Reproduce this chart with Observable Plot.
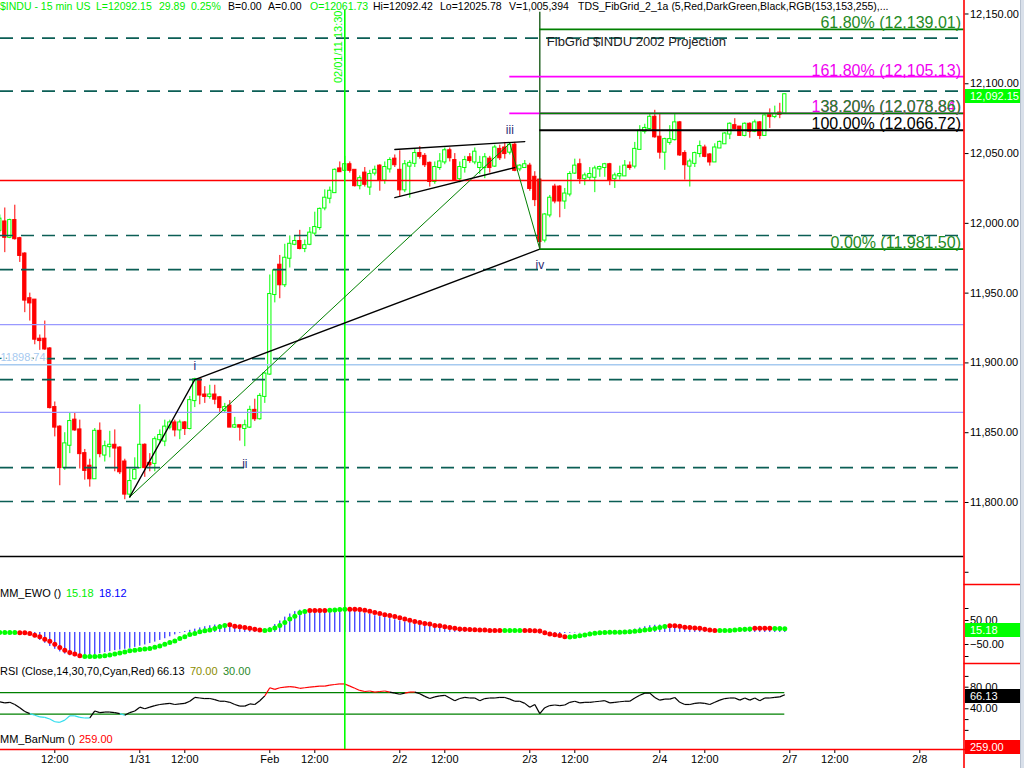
<!DOCTYPE html>
<html><head><meta charset="utf-8">
<script src="https://cdn.jsdelivr.net/npm/d3@7"></script>
<script src="https://cdn.jsdelivr.net/npm/@observablehq/plot@0.6"></script>
<style>
html,body{margin:0;padding:0;background:#fff;}
#wrap{position:relative;width:1024px;height:768px;overflow:hidden;font-family:"Liberation Sans",Arial,sans-serif;}
.panel{position:absolute;left:0;}
.panel svg{display:block;}
.panel g[aria-label="y-axis"] line,.panel g[aria-label="x-axis"] line{stroke:#ff0000;}
.panel g[aria-label="y-axis"] path,.panel g[aria-label="x-axis"] path{display:none;}
.panel g[aria-label="y-axis"] text{fill:#000;font-size:10.5px;}
.panel g[aria-label="x-axis"] text{fill:#000;font-size:11px;}
.lbl{position:absolute;font-size:11px;line-height:12px;white-space:pre;}
.hdr{font-size:10.5px;}
.box{position:absolute;left:965px;width:55px;height:14px;color:#fff;font-size:11px;line-height:14px;padding-left:5px;box-sizing:border-box;}
#edge{position:absolute;left:1020px;top:0;width:4px;height:768px;background:#d9e0ea;border-left:1px solid #b8c2d0;box-sizing:border-box;}
</style></head><body><div id="wrap"></div>
<script>
// ================= DATA =================
// 15-minute $INDU bars; bar 0-1 = end of 1/27, 1/28 starts at bar 2 (26 bars per session)
const barOpen = [
11995,12001,11990,12002,11989,11978,11946,11945,11917,11917,
11910,11868,11854,11825,11841,11859,11852,11835,11826,11817,
11851,11834,11840,11841,11839,11829,11806,11817,11825,11841,
11828,11828,11845,11844,11854,11857,11852,11857,11853,11873,
11888,11877,11876,11877,11875,11866,11869,11854,11855,11853,
11854,11866,11860,11876,11892,11949,11970,11956,11975,11985,
11987,11982,11985,11993,11997,12011,12018,12022,12039,12038,
12042,12038,12027,12036,12026,12036,12041,12031,12039,12046,
12038,12024,12041,12043,12050,12048,12043,12030,12040,12044,
12052,12045,12032,12040,12047,12044,12040,12040,12046,12041,
12053,12054,12051,12056,12039,12040,12041,12033,12031,11988,
12006,12026,12026,12016,12021,12036,12042,12032,12033,12033,
12039,12040,12042,12032,12034,12034,12041,12041,12053,12066,
12068,12076,12061.73,12051,12058,12060,12072,12050,12041,12043,
12050,12054,12049,12044,12054,12057,12064,12070,12069,12063,
12071,12066,12072,12063,12077.5,12076.5,12079,12078.9];
const barHigh = [
12006,12011,12003,12013,11990,11979,11950,11945,11920,11930,
11911,11872,11855,11850,11864,11864,11859,11838,11831,11853,
11857,11844,11851,11852,11840,11831,11824,11832,11870,11842,
11835,11847,11852,11859,11859,11859,11859,11858,11876,11889,
11888,11883,11884,11884,11876,11871,11873,11861,11855,11859,
11869,11874,11878,11893,11963,11967,11977,11985,11991,11991,
11995,11988,11997,12008,12011,12024,12026,12039,12044,12048,
12044,12038,12034,12040,12038,12041,12042,12044,12047,12049,
12052,12045,12045,12053,12055,12050,12044,12044,12050,12054,
12054,12050,12044,12048,12050,12054,12048,12050,12048,12056,
12056,12058,12058,12058,12042,12045,12043,12037,12032,12007,
12020,12028,12027,12025,12037,12046,12046,12036,12040,12041,
12041,12043,12043,12036,12041,12045,12044,12058,12070,12071,
12078,12081,12078,12061,12070,12078,12073,12052,12046,12051,
12059,12056,12050,12057,12059,12065,12072,12075,12069,12072,
12072,12074,12073,12078,12082,12084,12086,12092.42];
const barLow = [
11993,11979,11989,11988,11972,11936,11930,11913,11909,11909,
11867,11847,11812,11823,11835,11851,11824,11816,11811,11817,
11832,11829,11832,11822,11820,11802,11803,11816,11824,11818,
11822,11822,11842,11840,11852,11847,11845,11848,11852,11868,
11870,11871,11874,11870,11864,11864,11854,11853,11844,11840,
11853,11858,11859,11871,11891,11943,11946,11954,11968,11984,
11981,11979,11984,11991,11995,12009,12014,12022,12037,12037,
12036,12026,12024,12026,12020,12034,12023,12028,12036,12040,
12019,12022,12018,12040,12046,12040,12026,12028,12038,12042,
12044,12030,12029,12036,12043,12042,12035,12032,12036,12040,
12045,12046,12049,12037,12037,12040,12023,12012,11982,11986,
12004,12014,12004,12010,12019,12035,12028,12027,12030,12022,
12033,12033,12027,12025,12031,12034,12038,12039,12053,12064,
12067,12061,12046,12038,12056,12059,12048,12031,12026,12040,
12047,12047,12041,12044,12054,12057,12060,12067,12063,12062,
12061,12065,12060,12063,12068,12075,12075,12078];
const barClose = [
12003,11990,12002,11989,11977,11945,11943,11917,11916,11910,
11868,11854,11825,11842,11858,11852,11835,11823,11817,11851,
11835,11840,11841,11839,11822,11806,11815,11823,11841,11825,
11827,11845,11848,11854,11857,11852,11857,11853,11873,11888,
11877,11876,11877,11874,11868,11868,11854,11855,11854,11855,
11866,11860,11876,11892,11949,11966,11956,11975,11985,11987,
11982,11984,11993,11997,12010,12018,12023,12038,12037,12042,
12038,12027,12032,12028,12035,12038,12031,12040,12045,12042,
12024,12042,12043,12050,12048,12042,12030,12040,12044,12052,
12047,12031,12040,12045,12045,12051,12043,12047,12040,12054,
12047,12050,12056,12038,12041,12042,12025,12017,11987,12006,
12018,12016,12016,12021,12035,12041,12032,12034,12035,12039,
12040,12042,12031,12034,12035,12041,12040,12053,12066,12068,
12076,12062,12051,12060,12060,12072,12049,12042,12044,12050,
12055,12048,12044,12054,12058,12064,12071,12068,12063,12071,
12066,12072,12063,12077,12076.5,12078,12078,12092.15];

// MM_EWO: signal dots, blue histogram, dot state (u = green, d = red) as run lengths
const ewoSignal = [
0,0,0,0,
-1,-1,-4,-11,-18,-28,-36,-49,-63,-74,-83,-90,-97,
-100,-100,-100,-99,-97,-94,-90,-85,-81,-76,-74,-71,-69,-67,-61,-56,-49,-42,-35,-25,-18,-8,-4,3,7,10,17,24,29,
32,26,24,21,18,14,10,
8,11,19,29,42,56,68,82,88,
92,92,92,92,
93,94,96,97,
97,97,96,93,89,83,79,74,71,67,61,56,51,46,42,38,35,29,28,24,21,18,15,14,12,11,10,10,8,8,8,
8,8,8,8,
8,8,7,6,-1,-6,-9,-13,-18,
-19,-17,-14,-10,-6,-3,-1,0,1,1,1,2,3,5,7,10,12,17,21,25,
28,28,26,22,21,19,18,14,10,8,
8,8,8,10,12,14,15,
18,18,18,18,
17,16.5,15.18];
const ewoHist = [
0,0,0,0,
-3,-7,-13,-22,-33,-45,-58,-70,-81,-90,-97,-101,-103,
-101,-98,-93,-88,-84,-80,-76,-73,-70,-66,-62,-57,-52,-46,-40,-33,-26,-18,-10,-3,4,9,14,19,24,28,31,33,33,
31,27,23,19,15,12,10,
12,20,33,48,64,77,87,93,95,
94,93,93,94,
96,98,98,97,
94,90,85,80,75,70,66,62,58,53,48,44,40,36,32,28,25,22,19,17,15,13,12,11,10,9,8,8,8,9,9,
9,8,7,5,
2,-2,-4,-6,-7,-7,-6,-5,-4,
-3,-2,-1,0,1,2,2,3,3,4,5,7,10,14,19,24,28,30,31,31,
30,28,25,21,17,14,11,9,8,8,
9,10,12,14,16,17,18,
18,18,18,18,
18,18,18.12];
const ewoTrendRuns = [["u",4],["d",13],["u",29],["d",7],["u",9],["d",4],["u",4],["d",31],["u",4],["d",9],["u",20],["d",10],["u",7],["d",4],["u",3]];

// RSI(Close,14)
const rsiValues = [
53,51,52,48,42,35,31,28,25,24,
21,16,15,19,27,27,24,23,23,36,
33,34,34,33,31,28,33,36,43,40,
43,46,48,49,50,48,49,50,54,61,
60,59,59,57,54,54,52,48,45,45,
49,48,55,64,79,76,79,80,81,80,
78,79,80,81,82,82,84,85,86,86,
82,78,74,72,73,71,72,73,71,69,
67,69,71,71,68,63,59,62,64,65,
60,55,59,61,60,60,55,59,60,60,
61,61,58,54,54,50,43,48,31,42,
46,47,46,47,52,54,51,52,52,53,
54,55,51,52,53,54,54,60,65,69,
69,61,56,58,58,61,52,48,48,50,
51,50,48,52,56,59,60,60,56,60,
56,60,55,60,60,61,62,66.13];
const rsiBands = [70, 30];

// horizontal price levels
const dashedLevels = [12132.7, 12094.7, 11991.3, 11966.9, 11903.1, 11888.0, 11825.0, 11800.7];
const blueLevels = [11927.5, 11864.5];
const markedLevel = 11898.74;
const redLevel = 12030.7;
const blackLevel = 11761.3;

// FibGrid
const fibPct   = [61.8, 161.8, 138.2, 38.2, 100, 0];
const fibPrice = [12139.01, 12105.13, 12078.84, 12078.86, 12066.72, 11981.50];
const fibStart = [108, 102, 102, 108, 108, 108];
const fibSet   = ["grid", "proj", "proj", "grid", "base", "grid"];
const fibAnchorBar = 108, fibAnchorLow = 11981.50, fibAnchorHigh = 12151.3;
const fibTitle = "FibGrid $INDU 2002 Projection";

// wave annotations
const waveLabels = ["i", "ii", "iii", "iv"];
const waveBars   = [39, 49, 102, 108];
const wavePrices = [11889, 11840, 12058, 11982];
const wavePeak   = [true, false, true, false];
const blackPathBars = [26, 39, 108],  blackPathPrices = [11804, 11888, 11981.5];
const greenPathBars = [26, 102, 108], greenPathPrices = [11804, 12057.3, 11981.5];
const wedgeUpBars = [79, 105], wedgeUpPrices = [12052.9, 12058.6];
const wedgeLoBars = [79, 103], wedgeLoPrices = [12018.5, 12040.0];

const timeMarkBar = 69, timeMarkLabel = "02/01/11 13:30";

// axes
const priceTicks = [11800, 11850, 11900, 11950, 12000, 12050, 12100, 12150];
const priceMinorTicks = [11750];
const ewoTicks = [50, -50], ewoMinorTicks = [100, -100];
const rsiTicks = [80, 40], rsiMinorTicks = [100, 20, 0];
const xTickBars   = [11, 28, 37, 54, 63, 80, 89, 106, 115, 132, 141, 158, 167, 184];
const xTickLabels = ["12:00","1/31","12:00","Feb","12:00","2/2","12:00","2/3","12:00","2/4","12:00","2/7","12:00","2/8"];

const lastPrice = 12092.15, lastEwo = 15.18, lastEwoHist = 18.12, lastRsi = 66.13, barNum = 259;

// ================= RENDER =================
const UP = "#00ff00", DN = "#ff0000", TEAL = "#0b5e55", DKGREEN = "#008000";
const FONT = '"Liberation Sans", Arial, sans-serif';
const W = 1024, MR = 60.5, PLOTR = W - MR;
const XD = [0.14, 192.84];
const xMax = XD[1];
const xEdge = d3.scaleLinear(XD, [0, PLOTR]).invert(1020);
const fmtP = d3.format(",.2f"), fmt2 = d3.format(".2f");

const bars = barOpen.map((o, i) => ({i, open: o, high: barHigh[i], low: barLow[i], close: barClose[i]}));
const isUp = d => d.close >= d.open;
const trend = ewoTrendRuns.flatMap(([s, n]) => Array(n).fill(s));
const ewo = ewoSignal.map((v, i) => ({i, v, h: ewoHist[i], s: trend[i]}));
const rsiSegs = rsiValues.slice(1).map((v, k) => ({x1: k, y1: rsiValues[k], x2: k + 1, y2: v, v}));
const fibs = fibPct.map((p, k) => ({pct: p, price: fibPrice[k], start: fibStart[k], set: fibSet[k]}));
const fibColor = {grid: DKGREEN, proj: "#ff00ff", base: "#000000"};
const fibTextColor = {grid: "#1f8a1f", proj: "#f000f0", base: "#000000"};
const path = (bs, ps) => bs.map((b, k) => ({bar: b, price: ps[k]}));
const waves = waveLabels.map((t, k) => ({t, bar: waveBars[k], price: wavePrices[k], peak: wavePeak[k]}));
const xLabelMap = new Map(xTickBars.map((b, k) => [b, xTickLabels[k]]));

const baseStyle = {fontFamily: FONT, fontSize: "11px", background: "transparent", overflow: "visible"};
const yAxis = (major, minor, fmt) => ({
  axis: "right", label: null, ticks: major.concat(minor), tickSize: 4, tickPadding: 2,
  tickFormat: d => major.includes(d) ? fmt(d) : ""
});
const sepRule = (v) => Plot.ruleY([v], {x1: () => xMax, x2: () => xEdge, stroke: DN, strokeWidth: 1.4});

const PY = [11741.24, 12159.67];
const timeTop = d3.scaleLinear(PY, [584, 0]).invert(10);
const main = Plot.plot({
  width: W, height: 584, marginLeft: 0, marginRight: MR, marginTop: 0, marginBottom: 0,
  x: {domain: XD, axis: null}, y: {domain: PY, ...yAxis(priceTicks, priceMinorTicks, fmtP)},
  color: {type: "identity"}, style: baseStyle,
  marks: [
    // candles
    Plot.ruleX(bars, {x: "i", y1: "low", y2: "high", stroke: d => isUp(d) ? UP : DN, strokeWidth: 1}),
    Plot.rect(bars, {x1: d => d.i - 0.33, x2: d => d.i + 0.33, y1: "open", y2: "close",
      fill: d => isUp(d) ? "#ffffff" : DN, stroke: d => isUp(d) ? UP : DN, strokeWidth: 1,
      insetTop: -0.5, insetBottom: -0.5}),
    // horizontal levels
    Plot.ruleY(dashedLevels, {stroke: TEAL, strokeWidth: 1.7, strokeDasharray: "13,8"}),
    Plot.ruleY(blueLevels, {stroke: "#9999ff", strokeWidth: 1.2}),
    Plot.ruleY([markedLevel], {stroke: "#a6caf0", strokeWidth: 1.5}),
    Plot.ruleY([redLevel], {stroke: DN, strokeWidth: 1.5}),
    Plot.ruleY([blackLevel], {stroke: "#000", strokeWidth: 1.5}),
    Plot.text([markedLevel], {frameAnchor: "left", y: d => d, text: d => fmt2(d), textAnchor: "start",
      dy: -7, fill: "#a6caf0", stroke: "white", strokeWidth: 3, fontSize: 11}),
    // time marker
    Plot.ruleX([timeMarkBar], {y1: () => PY[0], y2: () => timeTop, stroke: UP, strokeWidth: 1.6}),
    Plot.text([timeMarkLabel], {x: () => timeMarkBar, frameAnchor: "top", text: d => d, rotate: -90,
      textAnchor: "end", dx: -11, dy: 10, fill: UP, fontSize: 11}),
    // trend lines
    Plot.line(path(greenPathBars, greenPathPrices), {x: "bar", y: "price", stroke: DKGREEN, strokeWidth: 1}),
    Plot.line(path(blackPathBars, blackPathPrices), {x: "bar", y: "price", stroke: "#000", strokeWidth: 1.3}),
    Plot.line(path(wedgeUpBars, wedgeUpPrices), {x: "bar", y: "price", stroke: "#000", strokeWidth: 1.3}),
    Plot.line(path(wedgeLoBars, wedgeLoPrices), {x: "bar", y: "price", stroke: "#000", strokeWidth: 1.3}),
    // fib grid
    Plot.ruleX([fibAnchorBar], {y1: () => fibAnchorLow, y2: () => fibAnchorHigh, stroke: "#1d5e1d", strokeWidth: 1.4}),
    Plot.ruleY(fibs, {y: "price", x1: "start", x2: () => xMax, stroke: d => fibColor[d.set], strokeWidth: 1.8}),
    Plot.text(fibs, {x: () => xMax, y: "price", text: d => `${fmt2(d.pct)}% (${fmtP(d.price)})`,
      textAnchor: "end", lineAnchor: "bottom", dx: -3, dy: -1, fontSize: 16, fill: d => fibTextColor[d.set]}),
    Plot.text([fibTitle], {x: () => fibAnchorBar, frameAnchor: "top", text: d => d, textAnchor: "start",
      dx: 7, dy: 36, fontSize: 13, fill: "#222"}),
    // wave labels
    Plot.text(waves.filter(d => d.peak), {x: "bar", y: "price", text: "t", dy: -12, fontSize: 12, fill: "#2a2a72"}),
    Plot.text(waves.filter(d => !d.peak), {x: "bar", y: "price", text: "t", dy: 17, fontSize: 12, fill: "#2a2a72"}),
    // right axis line + separator
    Plot.ruleX([xMax], {stroke: DN, strokeWidth: 1.6}),
    sepRule(PY[0])
  ]
});

const EY = [-129.2, 200];
const ewoPlot = Plot.plot({
  width: W, height: 79, marginLeft: 0, marginRight: MR, marginTop: 0, marginBottom: 0,
  x: {domain: XD, axis: null}, y: {domain: EY, ...yAxis(ewoTicks, ewoMinorTicks, fmt2)},
  color: {type: "identity"}, style: baseStyle,
  marks: [
    Plot.ruleX(ewo.filter(d => d.h !== 0), {x: "i", y1: () => 0, y2: "h", stroke: "#0000ff", strokeWidth: 1}),
    Plot.dot(ewo, {x: "i", y: "v", r: 2.5, fill: d => d.s === "u" ? UP : DN, stroke: "none"}),
    Plot.ruleX([timeMarkBar], {stroke: UP, strokeWidth: 1.6}),
    Plot.ruleX([xMax], {stroke: DN, strokeWidth: 1.6}),
    sepRule(EY[0])
  ]
});

const RY = [-35.4, 123.9];
const rsiBelow = d3.scaleLinear(RY, [86, 0]).invert(105);
const rsiPlot = Plot.plot({
  width: W, height: 105, marginLeft: 0, marginRight: MR, marginTop: 0, marginBottom: 19,
  x: {domain: XD, axis: "bottom", label: null, ticks: xTickBars, tickFormat: d => xLabelMap.get(d), tickSize: 4, tickPadding: 2},
  y: {domain: RY, ...yAxis(rsiTicks, rsiMinorTicks, fmt2)},
  color: {type: "identity"}, style: baseStyle,
  marks: [
    Plot.ruleY(rsiBands, {x1: () => XD[0], x2: () => rsiValues.length - 1, stroke: DKGREEN, strokeWidth: 1.3}),
    Plot.link(rsiSegs, {x1: "x1", y1: "y1", x2: "x2", y2: "y2", strokeWidth: 1.2,
      stroke: d => d.v > 70 ? DN : d.v < 30 ? "#33ddee" : "#000"}),
    Plot.ruleX([timeMarkBar], {stroke: UP, strokeWidth: 1.6}),
    Plot.ruleX([xMax], {y1: () => RY[0], y2: () => rsiBelow, stroke: DN, strokeWidth: 1.6}),
    Plot.ruleX([xMax], {stroke: DN, strokeWidth: 1.6}),
    Plot.ruleY([RY[0]], {x1: () => XD[0], x2: () => xEdge, stroke: DN, strokeWidth: 1.4})
  ]
});

const wrap = document.getElementById("wrap");
function place(svg, top) {
  const d = document.createElement("div");
  d.className = "panel"; d.style.top = top + "px"; d.appendChild(svg); wrap.appendChild(d);
}
place(main, 0); place(ewoPlot, 584); place(rsiPlot, 663);

function lbl(text, left, top, color, extra) {
  const s = document.createElement("div");
  s.className = "lbl" + (extra ? " " + extra : ""); s.textContent = text;
  s.style.left = left + "px"; s.style.top = top + "px"; s.style.color = color;
  wrap.appendChild(s);
}
function box(text, cy, bg) {
  const s = document.createElement("div");
  s.className = "box"; s.textContent = text;
  s.style.top = (cy - 7) + "px"; s.style.background = bg;
  wrap.appendChild(s);
}
function sy(plot, v, dom, h) {
  try { const f = plot.scale("y").apply; if (f) return f(v); } catch (e) {}
  return d3.scaleLinear(dom, [h, 0])(v);
}

// header
const G = "#00ee00", K = "#000";
lbl("$INDU - 15 min", 0, 0, G, "hdr");
lbl("US", 76, 0, G, "hdr");
lbl("L=12092.15", 96, 0, G, "hdr");
lbl("29.89", 159, 0, G, "hdr");
lbl("0.25%", 191, 0, G, "hdr");
lbl("B=0.00", 228, 0, K, "hdr");
lbl("A=0.00", 268, 0, K, "hdr");
lbl("O=12061.73", 310, 0, G, "hdr");
lbl("Hi=12092.42", 373, 0, K, "hdr");
lbl("Lo=12025.78", 440, 0, K, "hdr");
lbl("V=1,005,394", 509, 0, K, "hdr");
lbl("TDS_FibGrid_2_1a (5,Red,DarkGreen,Black,RGB(153,153,255),...", 578, 0, K, "hdr");

// panel titles
lbl("MM_EWO ()", 0, 587, K);
lbl(fmt2(lastEwo), 66, 587, G);
lbl(fmt2(lastEwoHist), 99, 587, "#0000ff");
lbl("RSI (Close,14,30,70,Cyan,Red)", 0, 665, K);
lbl(fmt2(lastRsi), 157, 665, K);
lbl(fmt2(rsiBands[0]), 190, 665, "#8c8c00");
lbl(fmt2(rsiBands[1]), 223, 665, "#2a8a2a");
lbl("MM_BarNum ()", 0, 733, K);
lbl(fmt2(barNum), 79, 733, DN);

// value boxes
box(fmtP(lastPrice), sy(main, lastPrice, PY, 584) + 1.5, "#00ff00");
box(fmt2(lastEwo), 584 + sy(ewoPlot, lastEwo, EY, 79) + 1.5, "#00ff00");
box(fmt2(lastRsi), 663 + sy(rsiPlot, lastRsi, RY, 86) + 2, "#000");
box(fmt2(barNum), 747, DN);

const edge = document.createElement("div"); edge.id = "edge"; wrap.appendChild(edge);
</script></body></html>
